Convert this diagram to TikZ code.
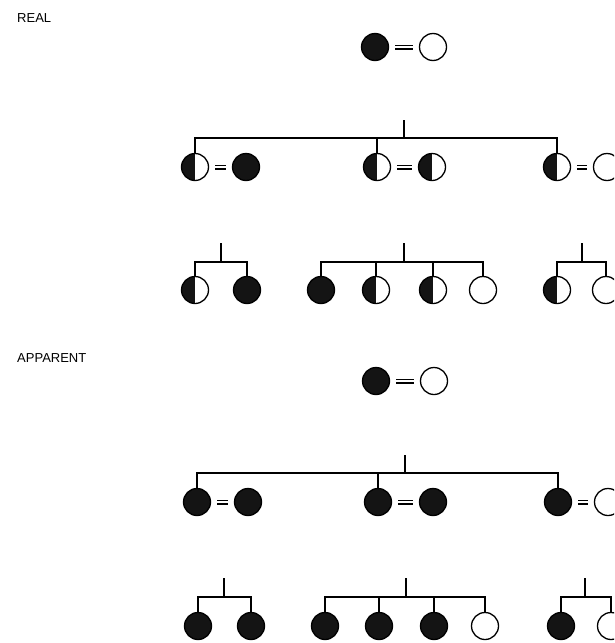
\documentclass[tikz,border=0pt]{standalone}
\usepackage{fontspec}
\setmainfont{Liberation Sans}
\usetikzlibrary{calc}
\tikzset{
  ind/.style={circle, minimum size=27pt, inner sep=0pt, draw=black, line width=1.3pt},
  aff/.style={ind, fill=black!92},
  het/.style={ind, fill=white, path picture={\fill[black!92] (path picture bounding box.south west) rectangle (path picture bounding box.north);}},
  nor/.style={ind, fill=white},
  link/.style={line width=1.3pt},
  marry/.style={draw, double=white, double distance=2.6pt, line width=1.2pt, shorten <=6pt, shorten >=6pt},
  lbl/.style={font=\fontsize{13}{15}\selectfont, anchor=base west, inner sep=0pt}
}
\begin{document}
\begin{tikzpicture}[x=1pt,y=-1pt]
\useasboundingbox (0,0) rectangle (614,643);
\clip (0,0) rectangle (614,643);
% ---------------- REAL ----------------
\node[lbl] (realT) at (17,22) {REAL};
\node[aff] (r1a) at (375,47) {};
\node[nor] (r1b) at (433,47) {};
\draw[marry] (r1a) -- (r1b);
\coordinate (r1top) at (404,120);
\coordinate (r1bar) at (404,138);
\node[het] (r2a) at (195,167) {};
\node[aff] (r2b) at (246,167) {};
\node[het] (r2c) at (377,167) {};
\node[het] (r2d) at (432,167) {};
\node[het] (r2e) at (557,167) {};
\node[nor] (r2f) at (607,167) {};
\draw[marry] (r2a) -- (r2b);
\draw[marry] (r2c) -- (r2d);
\draw[marry] (r2e) -- (r2f);
\draw[link] (r1top) -- (r1bar);
\draw[link] (r2a.north) -- (r2a.north |- r1bar) -- (r2e.north |- r1bar) -- (r2e.north);
\draw[link] (r2c.north) -- (r2c.north |- r1bar);
% gen 3
\node[het] (r3a) at (195,290) {};
\node[aff] (r3b) at (247,290) {};
\node[aff] (r3c) at (321,290) {};
\node[het] (r3d) at (376,290) {};
\node[het] (r3e) at (433,290) {};
\node[nor] (r3f) at (483,290) {};
\node[het] (r3g) at (557,290) {};
\node[nor] (r3h) at (606,290) {};
\coordinate (rf1t) at (221,243); \coordinate (rf1b) at (221,262);
\coordinate (rf2t) at (404,243); \coordinate (rf2b) at (404,262);
\coordinate (rf3t) at (582,243); \coordinate (rf3b) at (582,262);
\draw[link] (rf1t) -- (rf1b);
\draw[link] (r3a.north) -- (r3a.north |- rf1b) -- (r3b.north |- rf1b) -- (r3b.north);
\draw[link] (rf2t) -- (rf2b);
\draw[link] (r3c.north) -- (r3c.north |- rf2b) -- (r3f.north |- rf2b) -- (r3f.north);
\draw[link] (r3d.north) -- (r3d.north |- rf2b);
\draw[link] (r3e.north) -- (r3e.north |- rf2b);
\draw[link] (rf3t) -- (rf3b);
\draw[link] (r3g.north) -- (r3g.north |- rf3b) -- (r3h.north |- rf3b) -- (r3h.north);
% ---------------- APPARENT ----------------
\node[lbl] (appT) at (17,362) {APPARENT};
\node[aff] (a1a) at (376,381) {};
\node[nor] (a1b) at (434,381) {};
\draw[marry] (a1a) -- (a1b);
\coordinate (a1top) at (405,455);
\coordinate (a1bar) at (405,473);
\node[aff] (a2a) at (197,502) {};
\node[aff] (a2b) at (248,502) {};
\node[aff] (a2c) at (378,502) {};
\node[aff] (a2d) at (433,502) {};
\node[aff] (a2e) at (558,502) {};
\node[nor] (a2f) at (608,502) {};
\draw[marry] (a2a) -- (a2b);
\draw[marry] (a2c) -- (a2d);
\draw[marry] (a2e) -- (a2f);
\draw[link] (a1top) -- (a1bar);
\draw[link] (a2a.north) -- (a2a.north |- a1bar) -- (a2e.north |- a1bar) -- (a2e.north);
\draw[link] (a2c.north) -- (a2c.north |- a1bar);
% gen 3
\node[aff] (a3a) at (198,626) {};
\node[aff] (a3b) at (251,626) {};
\node[aff] (a3c) at (325,626) {};
\node[aff] (a3d) at (379,626) {};
\node[aff] (a3e) at (434,626) {};
\node[nor] (a3f) at (485,626) {};
\node[aff] (a3g) at (561,626) {};
\node[nor] (a3h) at (611,626) {};
\coordinate (af1t) at (224,578); \coordinate (af1b) at (224,597);
\coordinate (af2t) at (406,578); \coordinate (af2b) at (406,597);
\coordinate (af3t) at (585,578); \coordinate (af3b) at (585,597);
\draw[link] (af1t) -- (af1b);
\draw[link] (a3a.north) -- (a3a.north |- af1b) -- (a3b.north |- af1b) -- (a3b.north);
\draw[link] (af2t) -- (af2b);
\draw[link] (a3c.north) -- (a3c.north |- af2b) -- (a3f.north |- af2b) -- (a3f.north);
\draw[link] (a3d.north) -- (a3d.north |- af2b);
\draw[link] (a3e.north) -- (a3e.north |- af2b);
\draw[link] (af3t) -- (af3b);
\draw[link] (a3g.north) -- (a3g.north |- af3b) -- (a3h.north |- af3b) -- (a3h.north);
\end{tikzpicture}
\end{document}
